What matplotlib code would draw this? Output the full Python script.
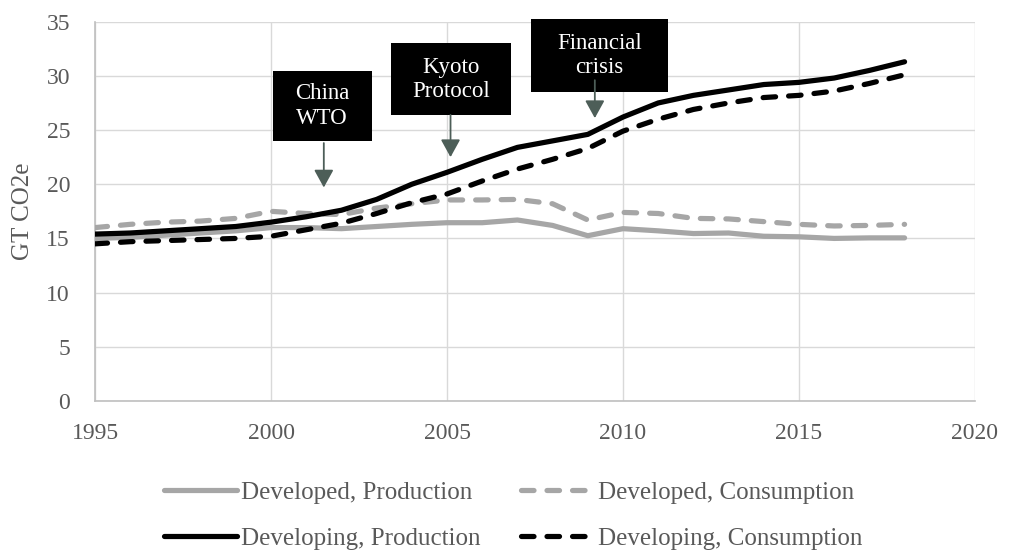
import matplotlib
matplotlib.use('Agg')
import matplotlib.pyplot as plt
from matplotlib.patches import Rectangle

plt.rcParams['font.family'] = ['Liberation Serif', 'DejaVu Serif']

years = list(range(1995, 2019))
developed_production = [15.0, 15.1, 15.3, 15.5, 15.7, 16.0, 16.0, 15.9, 16.1, 16.3, 16.45, 16.45,
                        16.7, 16.2, 15.25, 15.9, 15.7, 15.45, 15.5, 15.2, 15.15, 15.0, 15.05, 15.05]
developed_consumption = [16.0, 16.3, 16.5, 16.6, 16.85, 17.5, 17.3, 17.2, 17.8, 18.2, 18.55, 18.55,
                         18.6, 18.2, 16.7, 17.4, 17.3, 16.85, 16.8, 16.55, 16.3, 16.15, 16.2, 16.3]
developing_production = [15.4, 15.5, 15.7, 15.9, 16.1, 16.5, 17.0, 17.6, 18.6, 20.0, 21.1, 22.3,
                         23.4, 24.0, 24.6, 26.2, 27.5, 28.2, 28.7, 29.2, 29.4, 29.8, 30.5, 31.3]
developing_consumption = [14.5, 14.7, 14.8, 14.9, 15.0, 15.2, 15.8, 16.4, 17.3, 18.3, 19.1, 20.3,
                          21.4, 22.3, 23.3, 24.9, 26.0, 26.9, 27.5, 28.0, 28.2, 28.6, 29.3, 30.1]

# events: label, arrow x, arrow start y, arrow tip y, box (x0, x1, y0, y1)
events = [
    ('China\nWTO', 2001.5, 23.8, 19.7, (2000.05, 2002.86, 24.0, 30.45)),
    ('Kyoto\nProtocol', 2005.1, 26.4, 22.5, (2003.41, 2006.81, 26.4, 33.0)),
    ('Financial\ncrisis', 2009.2, 29.6, 26.1, (2007.40, 2011.27, 28.5, 35.25)),
]

GRAY = '#a6a6a6'
TXT = '#595959'
ARROW = '#4d5e58'

fig = plt.figure(figsize=(10.12, 5.53), dpi=100)
ax = fig.add_axes([0.0939, 0.2749, 0.8695, 0.6859])

lw = 3.75
ax.plot(years, developed_production, color=GRAY, lw=lw, solid_capstyle='round',
        solid_joinstyle='round', label='Developed, Production', zorder=3)
ax.plot(years, developed_consumption, color=GRAY, lw=lw, dashes=(2.4, 2.5), dash_capstyle='round',
        dash_joinstyle='round', label='Developed, Consumption', zorder=3)
ax.plot(years, developing_production, color='black', lw=lw, solid_capstyle='round',
        solid_joinstyle='round', label='Developing, Production', zorder=4)
ax.plot(years, developing_consumption, color='black', lw=lw, dashes=(2.4, 2.5), dash_capstyle='round',
        dash_joinstyle='round', label='Developing, Consumption', zorder=4)

ax.set_xlim(1995, 2020)
ax.set_ylim(0, 35)
ax.set_xticks(range(1995, 2021, 5))
ax.set_yticks(range(0, 36, 5))
ax.grid(True, color='#d9d9d9', lw=1.0)
ax.set_axisbelow(True)
for s in ['top', 'right']:
    ax.spines[s].set_visible(False)
for s in ['left', 'bottom']:
    ax.spines[s].set_color('#bfbfbf')
    ax.spines[s].set_linewidth(1.2)
ax.tick_params(length=0, labelsize=17, colors=TXT)
ax.tick_params(axis='y', pad=18)
ax.tick_params(axis='x', pad=16)
ax.set_ylabel('GT CO2e', fontsize=18, color=TXT, labelpad=9)

for label, ax_x, y_start, y_tip, (x0, x1, y0, y1) in events:
    ax.add_patch(Rectangle((x0, y0), x1 - x0, y1 - y0, facecolor='black', edgecolor='none',
                           zorder=5, clip_on=False))
    ax.text((x0 + x1) / 2, (y0 + y1) / 2, label, color='white', fontsize=16.5,
            ha='center', va='center', linespacing=1.2, zorder=6)
    ax.annotate('', xy=(ax_x, y_tip), xytext=(ax_x, y_start),
                arrowprops=dict(arrowstyle='-|>,head_length=0.4,head_width=0.22', color=ARROW,
                                lw=1.3, mutation_scale=27, shrinkA=0, shrinkB=0),
                zorder=7, annotation_clip=False)

h, l = ax.get_legend_handles_labels()
order = [0, 2, 1, 3]
leg = fig.legend([h[i] for i in order], [l[i] for i in order], loc='center',
                 bbox_to_anchor=(0.507, 0.068), ncol=2, frameon=False, fontsize=18,
                 handlelength=2.95, handletextpad=0.15, columnspacing=1.6, labelspacing=0.95)
for t in leg.get_texts():
    t.set_color(TXT)

fig.savefig('out.png', dpi=100)
